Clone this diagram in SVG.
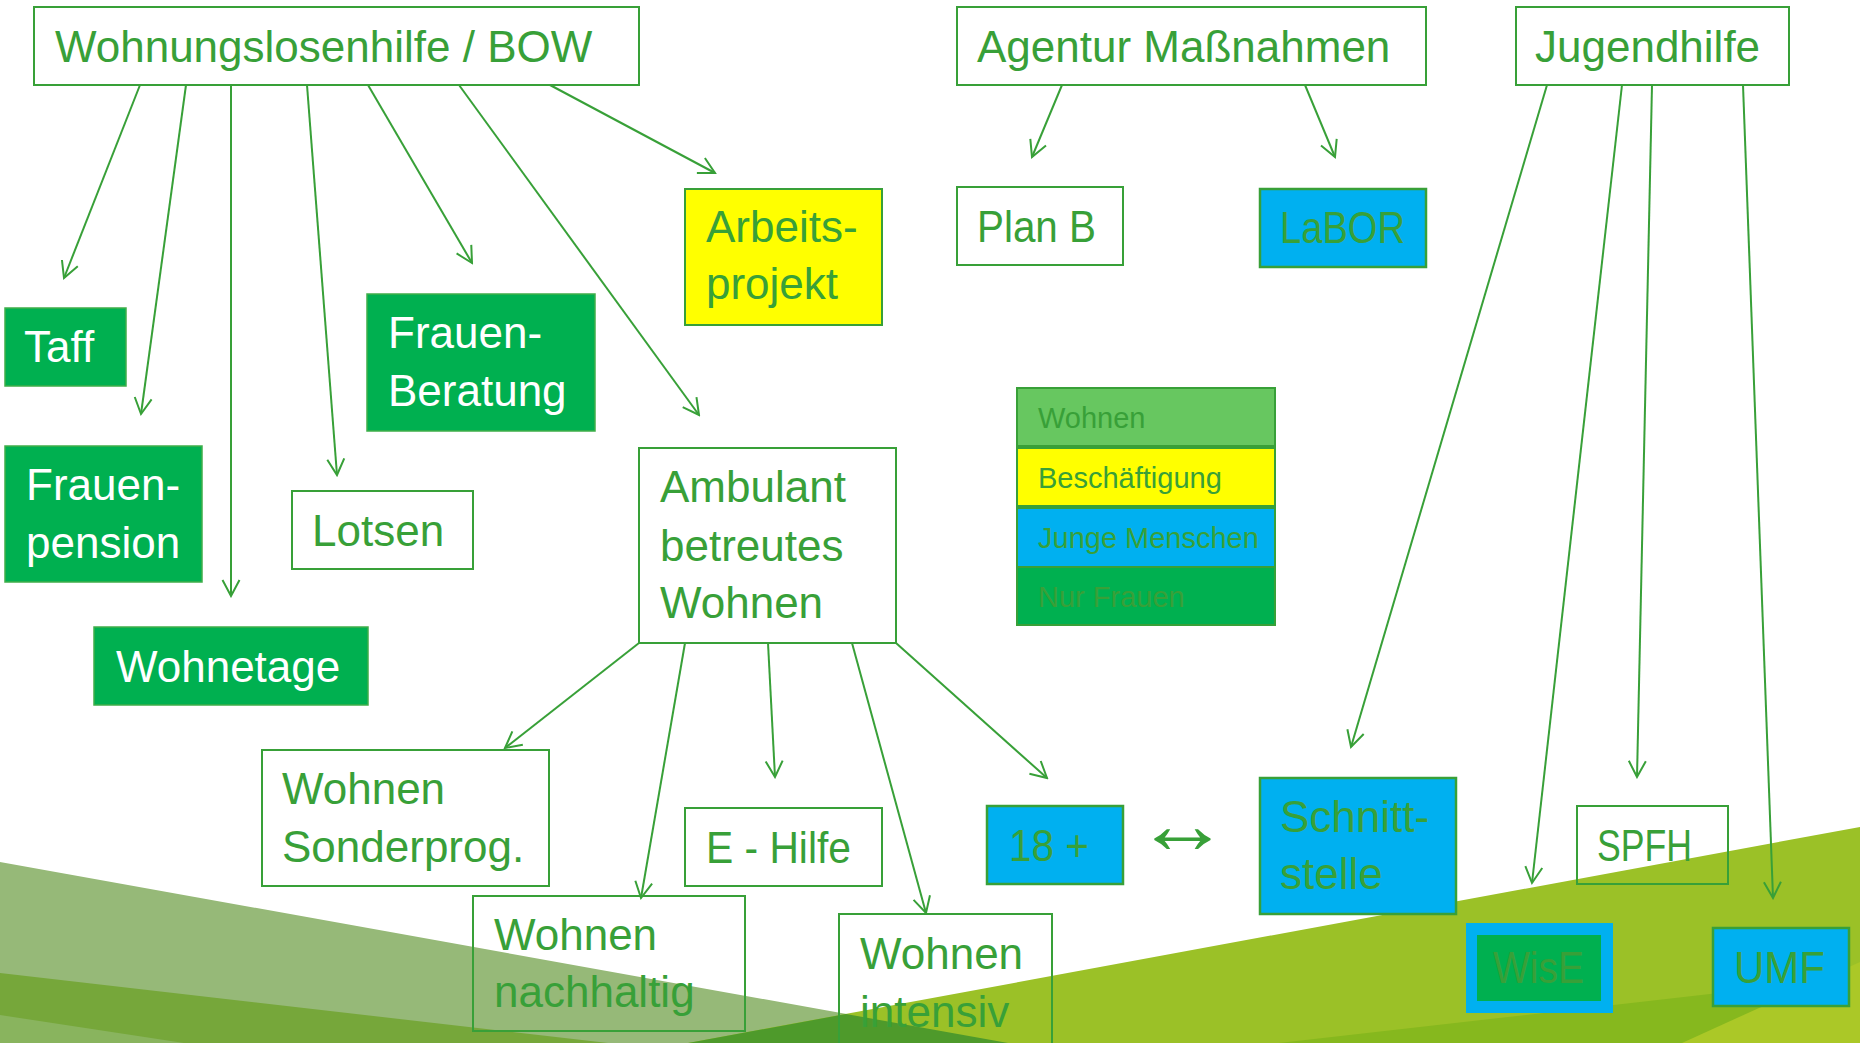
<svg xmlns="http://www.w3.org/2000/svg" width="1860" height="1043" viewBox="0 0 1860 1043">
<defs>
<style>
.t{font-family:"Liberation Sans",Arial,sans-serif;font-size:44px;fill:#38a038}
.w{fill:#ffffff}
.lg{font-size:29px}
.box{fill:#ffffff;stroke:#38a038;stroke-width:2}
.open{fill:none;stroke:#38a038;stroke-width:2}
.gr{fill:#00b050;stroke:#3fae4a;stroke-width:1.5}
.bl{fill:#00b0f0;stroke:#38a038;stroke-width:2.5}
.ye{fill:#ffff00;stroke:#38a038;stroke-width:2}
.c line{stroke:#38a038;stroke-width:2;fill:none;marker-end:url(#arr)}
</style>
<marker id="arr" markerUnits="userSpaceOnUse" markerWidth="20" markerHeight="20" viewBox="0 0 20 20" refX="18" refY="10" orient="auto"><path d="M2,1.5 L18,10 L2,18.5" fill="none" stroke="#38a038" stroke-width="2"/></marker>
</defs>
<rect width="1860" height="1043" fill="#ffffff"/>
<g id="background">
<polygon points="0,862 1008,1043 0,1043" fill="#96b978"/>
<polygon points="0,973 608,1043 0,1043" fill="#76a73a"/>
<polygon points="0,1015 184,1043 0,1043" fill="#89b45e"/>
<polygon points="688,1043 1860,827 1860,1043" fill="#9bc127"/>
<polygon points="1279,1043 1860,977 1860,1043" fill="#86b81e"/>
<polygon points="1682,1043 1860,962 1860,1043" fill="#abc827"/>
<polygon points="688,1043 846,1014 1008,1043" fill="#4e9a2b"/>
</g>
<g class="c" id="connectors">
<line x1="140" y1="85" x2="64" y2="278"/>
<line x1="186" y1="85" x2="141" y2="414"/>
<line x1="231" y1="85" x2="231" y2="596"/>
<line x1="307" y1="85" x2="337" y2="475"/>
<line x1="368" y1="85" x2="472" y2="263"/>
<line x1="459" y1="85" x2="699" y2="415"/>
<line x1="550" y1="85" x2="715" y2="173"/>
<line x1="1062" y1="85" x2="1032" y2="157"/>
<line x1="1305" y1="85" x2="1335" y2="157"/>
<line x1="1547" y1="85" x2="1351" y2="747"/>
<line x1="1622" y1="85" x2="1532" y2="883"/>
<line x1="1652" y1="85" x2="1637" y2="777"/>
<line x1="1743" y1="85" x2="1773" y2="898"/>
<line x1="639" y1="643" x2="505" y2="748"/>
<line x1="685" y1="643" x2="641" y2="898"/>
<line x1="768" y1="643" x2="775" y2="777"/>
<line x1="852" y1="643" x2="926" y2="913"/>
<line x1="896" y1="643" x2="1047" y2="778"/>
</g>
<g id="wohnungslosenhilfe"><rect class="box" x="34" y="7" width="605" height="78"/><text class="t" x="55" y="62">Wohnungslosenhilfe / BOW</text></g>
<g id="agentur"><rect class="box" x="957" y="7" width="469" height="78"/><text class="t" x="977" y="62">Agentur Maßnahmen</text></g>
<g id="jugendhilfe"><rect class="box" x="1516" y="7" width="273" height="78"/><text class="t" x="1535" y="62">Jugendhilfe</text></g>
<g id="planb"><rect class="box" x="957" y="187" width="166" height="78"/><text class="t" x="977" y="242" textLength="119" lengthAdjust="spacingAndGlyphs">Plan B</text></g>
<g id="labor"><rect class="bl" x="1260" y="189" width="166" height="78"/><text class="t" x="1280" y="243" textLength="125" lengthAdjust="spacingAndGlyphs">LaBOR</text></g>
<g id="arbeitsprojekt"><rect class="ye" x="685" y="189" width="197" height="136"/><text class="t" x="706" y="242">Arbeits-</text><text class="t" x="706" y="299">projekt</text></g>
<g id="taff"><rect class="gr" x="5" y="308" width="121" height="78"/><text class="t w" x="24" y="362">Taff</text></g>
<g id="frauenpension"><rect class="gr" x="5" y="446" width="197" height="136"/><text class="t w" x="26" y="500">Frauen-</text><text class="t w" x="26" y="558">pension</text></g>
<g id="frauenberatung"><rect class="gr" x="367" y="294" width="228" height="137"/><text class="t w" x="388" y="348">Frauen-</text><text class="t w" x="388" y="406">Beratung</text></g>
<g id="lotsen"><rect class="box" x="292" y="491" width="181" height="78"/><text class="t" x="312" y="546">Lotsen</text></g>
<g id="ambulant"><rect class="box" x="639" y="448" width="257" height="195"/><text class="t" x="660" y="502">Ambulant</text><text class="t" x="660" y="561">betreutes</text><text class="t" x="660" y="618">Wohnen</text></g>
<g id="wohnetage"><rect class="gr" x="94" y="627" width="274" height="78"/><text class="t w" x="116" y="682">Wohnetage</text></g>
<g id="sonderprog"><rect class="box" x="262" y="750" width="287" height="136"/><text class="t" x="282" y="804">Wohnen</text><text class="t" x="282" y="862">Sonderprog.</text></g>
<g id="ehilfe"><rect class="box" x="685" y="808" width="197" height="78"/><text class="t" x="706" y="863" textLength="145" lengthAdjust="spacingAndGlyphs">E - Hilfe</text></g>
<g id="nachhaltig"><rect class="open" x="473" y="896" width="272" height="135"/><text class="t" x="494" y="950">Wohnen</text><text class="t" x="494" y="1007">nachhaltig</text></g>
<g id="intensiv"><rect class="open" x="839" y="914" width="213" height="140"/><text class="t" x="860" y="969">Wohnen</text><text class="t" x="860" y="1027">intensiv</text></g>
<g id="achtzehn"><rect class="bl" x="987" y="806" width="136" height="78"/><text class="t" x="1009" y="861" textLength="80" lengthAdjust="spacingAndGlyphs">18 +</text></g>
<g id="doppelpfeil"><text x="1135" y="853" textLength="95" lengthAdjust="spacingAndGlyphs" style="font-family:'Liberation Sans','DejaVu Sans',sans-serif;font-size:84px;fill:#38a038">↔</text></g>
<g id="schnittstelle"><rect class="bl" x="1260" y="778" width="196" height="136"/><text class="t" x="1280" y="832">Schnitt-</text><text class="t" x="1280" y="889">stelle</text></g>
<g id="spfh"><rect class="open" x="1577" y="806" width="151" height="78"/><text class="t" x="1597" y="861" textLength="95" lengthAdjust="spacingAndGlyphs">SPFH</text></g>
<g id="wise"><rect x="1466" y="923" width="147" height="90" fill="#00b0f0"/><rect x="1477" y="935" width="124" height="66" fill="#00b050"/><text class="t" x="1493" y="983" textLength="91" lengthAdjust="spacingAndGlyphs">WisE</text></g>
<g id="umf"><rect class="bl" x="1713" y="928" width="136" height="78"/><text class="t" x="1734" y="983" textLength="91" lengthAdjust="spacingAndGlyphs">UMF</text></g>
<g id="legende">
<rect x="1017" y="388" width="258" height="58" fill="#67c760" stroke="#38a038" stroke-width="2"/>
<rect x="1017" y="448" width="258" height="58" fill="#ffff00" stroke="#38a038" stroke-width="2"/>
<rect x="1017" y="508" width="258" height="59" fill="#00b0f0" stroke="#38a038" stroke-width="2"/>
<rect x="1017" y="567" width="258" height="58" fill="#00b050" stroke="#38a038" stroke-width="2"/>
<text class="t lg" x="1038" y="428">Wohnen</text>
<text class="t lg" x="1038" y="488">Beschäftigung</text>
<text class="t lg" x="1038" y="548">Junge Menschen</text>
<text class="t lg" x="1038" y="607">Nur Frauen</text>
</g>
</svg>
